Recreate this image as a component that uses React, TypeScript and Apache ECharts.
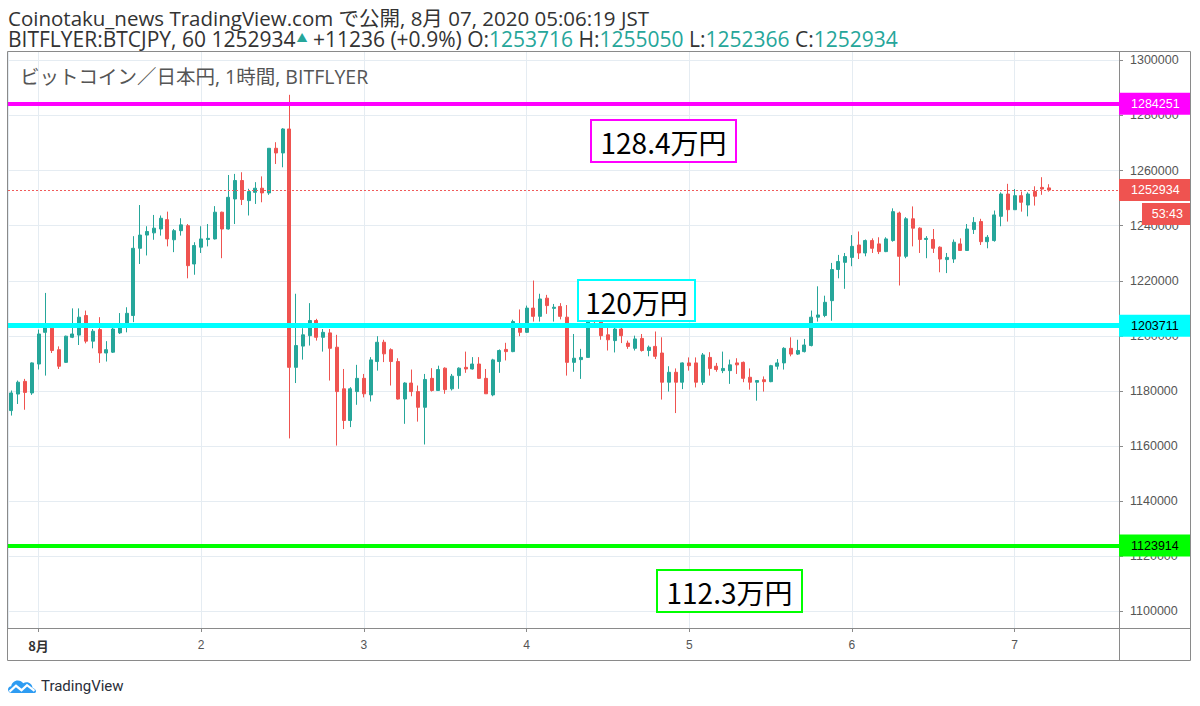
import React, { useEffect, useRef } from "react";
import * as echarts from "echarts";

// Hourly candles (JST), first candle 2020-07-31 20:00, values in 千円 (thousand yen)
const firstCandle = { year: 2020, monthIndex: 6, day: 31, hour: 20 };
const axisStart = { year: 2020, monthIndex: 6, day: 31, hour: 19, minute: 30 };
const axisEnd = { year: 2020, monthIndex: 7, day: 7, hour: 15, minute: 24 };

const openK = [
  1172.9, 1178.9, 1183.5, 1179.3, 1189.8, 1201.3, 1202.8, 1195.0, 1190.4, 1199.5,
  1200.3, 1207.4, 1198.1, 1202.3, 1193.8, 1194.1, 1201.1, 1204.3, 1207.4, 1231.8,
  1236.6, 1237.4, 1238.8, 1242.2, 1234.9, 1238.2, 1240.0, 1226.1, 1232.2, 1235.0,
  1235.2, 1244.9, 1238.8, 1249.7, 1256.4, 1249.1, 1252.1, 1253.6, 1251.9, 1268.1,
  1266.4, 1275.1, 1188.6, 1196.3, 1200.1, 1205.6, 1199.5, 1201.1, 1195.9, 1180.8,
  1169.3, 1179.8, 1184.6, 1178.6, 1190.7, 1197.7, 1195.0, 1190.7, 1177.1, 1182.9,
  1179.8, 1174.1, 1184.6, 1180.2, 1188.3, 1180.8, 1185.6, 1188.6, 1188.0, 1189.8,
  1184.6, 1178.6, 1190.7, 1195.1, 1194.3, 1203.2, 1201.3, 1210.1, 1207.1, 1213.7,
  1210.0, 1210.7, 1206.8, 1190.4, 1191.4, 1192.2, 1207.6, 1205.2, 1200.4, 1198.3,
  1202.5, 1197.4, 1195.5, 1199.1, 1194.7, 1196.2, 1193.8, 1183.2, 1186.8, 1183.2,
  1190.2, 1190.2, 1183.2, 1192.2, 1189.0, 1187.4, 1187.4, 1190.2, 1190.4, 1185.0,
  1183.2, 1184.1, 1183.4, 1189.0, 1190.2, 1195.5, 1193.4, 1194.3, 1196.5, 1206.8,
  1207.4, 1212.8, 1224.1, 1226.7, 1228.5, 1233.0, 1230.1, 1234.6, 1233.4, 1230.6,
  1234.6, 1244.6, 1228.9, 1242.5, 1239.1, 1235.0, 1235.0, 1232.2, 1227.7, 1227.9,
  1233.4, 1231.0, 1238.6, 1241.5, 1234.2, 1234.6, 1243.4, 1251.5, 1245.8, 1250.9,
  1247.5, 1252.4, 1253.9, 1253.716,
];
const closeK = [
  1179.3, 1183.2, 1179.5, 1190.2, 1200.7, 1203.1, 1194.7, 1189.0, 1199.9, 1200.7,
  1206.8, 1198.1, 1201.7, 1193.8, 1195.0, 1202.5, 1203.5, 1208.2, 1231.8, 1236.6,
  1237.9, 1239.1, 1242.7, 1235.2, 1238.2, 1240.3, 1225.5, 1232.8, 1235.2, 1235.4,
  1244.9, 1238.8, 1250.3, 1256.4, 1249.5, 1252.4, 1253.6, 1251.9, 1268.1, 1266.4,
  1275.1, 1188.6, 1196.5, 1200.4, 1205.6, 1199.5, 1201.3, 1195.5, 1179.8, 1169.3,
  1180.8, 1184.6, 1179.0, 1191.3, 1197.7, 1193.5, 1190.7, 1177.1, 1182.9, 1179.8,
  1174.1, 1184.2, 1180.2, 1187.8, 1180.5, 1185.4, 1188.3, 1188.0, 1189.8, 1184.6,
  1179.0, 1191.3, 1194.7, 1194.3, 1205.2, 1201.3, 1210.1, 1207.1, 1213.4, 1211.0,
  1210.4, 1207.1, 1190.4, 1191.9, 1192.2, 1207.6, 1205.2, 1200.1, 1198.6, 1202.5,
  1200.1, 1196.2, 1198.9, 1194.7, 1195.9, 1192.6, 1183.2, 1186.8, 1183.2, 1190.2,
  1189.2, 1183.2, 1193.1, 1188.2, 1187.8, 1188.2, 1189.5, 1189.5, 1184.6, 1183.2,
  1183.8, 1183.4, 1189.2, 1190.2, 1195.5, 1193.4, 1194.7, 1196.7, 1206.8, 1207.6,
  1212.2, 1224.1, 1227.0, 1228.8, 1232.5, 1230.1, 1234.6, 1231.8, 1230.6, 1235.2,
  1245.1, 1228.9, 1242.5, 1239.1, 1235.0, 1235.4, 1231.8, 1227.9, 1228.5, 1234.0,
  1231.0, 1238.8, 1241.2, 1234.2, 1235.8, 1243.9, 1251.5, 1245.8, 1250.9, 1248.5,
  1251.5, 1250.7, 1253.3, 1252.934,
];
const highK = [
  1180.2, 1183.8, 1184.4, 1190.4, 1202.3, 1215.6, 1203.5, 1196.2, 1200.1, 1210.0,
  1210.0, 1209.2, 1202.5, 1206.8, 1198.1, 1203.5, 1208.3, 1210.4, 1236.2, 1247.5,
  1239.8, 1243.9, 1243.7, 1245.1, 1238.8, 1242.7, 1240.6, 1234.0, 1239.8, 1240.6,
  1247.1, 1245.1, 1258.4, 1258.8, 1259.4, 1253.4, 1255.8, 1257.9, 1268.1, 1270.3,
  1275.4, 1287.5, 1215.3, 1202.8, 1211.9, 1206.2, 1202.5, 1202.5, 1200.4, 1188.0,
  1181.4, 1189.5, 1186.2, 1192.3, 1199.9, 1198.6, 1195.5, 1191.9, 1183.2, 1187.8,
  1182.0, 1186.2, 1188.3, 1189.2, 1188.6, 1186.2, 1188.6, 1194.3, 1192.3, 1192.3,
  1188.0, 1191.7, 1195.1, 1197.5, 1205.9, 1209.6, 1211.0, 1220.1, 1215.3, 1214.9,
  1211.6, 1211.9, 1211.2, 1200.7, 1195.3, 1212.4, 1208.8, 1208.6, 1203.1, 1203.5,
  1203.5, 1198.3, 1200.1, 1200.7, 1196.5, 1201.6, 1199.5, 1189.0, 1188.2, 1190.4,
  1192.2, 1192.2, 1193.8, 1194.1, 1190.2, 1194.3, 1191.4, 1191.9, 1190.7, 1188.2,
  1183.8, 1185.3, 1189.5, 1191.6, 1195.9, 1199.5, 1198.6, 1198.9, 1209.2, 1218.0,
  1214.6, 1226.5, 1229.4, 1230.1, 1236.6, 1237.9, 1235.0, 1235.4, 1235.8, 1235.8,
  1246.3, 1245.1, 1243.1, 1247.0, 1239.4, 1236.2, 1238.8, 1232.5, 1230.1, 1235.0,
  1235.4, 1240.6, 1243.1, 1242.5, 1236.6, 1245.5, 1252.1, 1255.2, 1253.3, 1252.4,
  1252.1, 1254.3, 1257.6, 1255.05,
];
const lowK = [
  1171.1, 1175.3, 1173.2, 1178.6, 1187.8, 1185.6, 1193.8, 1188.0, 1190.2, 1199.2,
  1196.7, 1197.3, 1195.5, 1190.2, 1190.7, 1193.8, 1200.7, 1201.3, 1205.0, 1226.1,
  1229.2, 1234.9, 1236.4, 1232.5, 1230.4, 1236.4, 1220.9, 1222.2, 1230.1, 1232.5,
  1235.0, 1228.2, 1238.6, 1240.6, 1247.5, 1243.7, 1247.9, 1248.5, 1251.2, 1262.4,
  1261.2, 1162.8, 1182.9, 1191.4, 1196.5, 1198.3, 1194.3, 1183.8, 1160.2, 1166.2,
  1166.9, 1175.0, 1177.7, 1176.2, 1187.4, 1190.5, 1182.0, 1176.9, 1168.1, 1178.1,
  1168.9, 1160.6, 1179.8, 1180.2, 1179.0, 1180.2, 1180.8, 1186.6, 1187.8, 1184.4,
  1179.0, 1178.1, 1186.6, 1191.1, 1194.1, 1199.9, 1201.1, 1205.2, 1205.2, 1208.0,
  1205.2, 1206.0, 1185.6, 1187.0, 1184.4, 1192.2, 1204.7, 1198.6, 1194.7, 1194.0,
  1197.4, 1195.3, 1194.7, 1194.3, 1192.6, 1191.6, 1176.9, 1179.8, 1172.0, 1180.7,
  1187.4, 1181.3, 1182.2, 1185.6, 1187.0, 1186.5, 1182.6, 1186.2, 1183.2, 1180.5,
  1176.5, 1179.8, 1183.2, 1187.8, 1187.8, 1192.6, 1193.1, 1194.0, 1196.2, 1205.2,
  1206.8, 1205.5, 1220.9, 1217.1, 1225.3, 1227.9, 1228.9, 1230.1, 1229.7, 1230.4,
  1234.2, 1218.3, 1228.2, 1232.5, 1230.1, 1228.2, 1230.1, 1223.1, 1222.8, 1226.5,
  1231.0, 1231.0, 1237.0, 1233.0, 1231.8, 1234.2, 1239.8, 1241.5, 1245.8, 1245.1,
  1243.4, 1247.3, 1251.2, 1252.366,
];

const yMin = 1094000;
const yMax = 1303400;
const yStep = 20000;

const levelValues = [1284251, 1203711, 1123914];
const levelNotes = ["128.4万円", "120万円", "112.3万円"];
const lastPrice = 1252934;
const countdown = "53:43";

const headerLine1 = "Coinotaku_news TradingView.com で公開, 8月 07, 2020 05:06:19 JST";
const symbolText = "BITFLYER:BTCJPY, 60 1252934";
const changeText = " +11236 (+0.9%)";
const ohlcLabels = ["O:", "H:", "L:", "C:"];
const ohlcValues = ["1253716", "1255050", "1252366", "1252934"];
const chartTitle = "ビットコイン／日本円, 1時間, BITFLYER";
const monthLabel = "8月";

const UP = "#26a69a";
const DOWN = "#ef5350";
const GRID = "#e5ecf2";
const FRAME = "#8a8a8a";
const LEVEL_COLORS = ["#ff00ff", "#00ffff", "#00ff00"];
const LEVEL_TEXT = ["#ffffff", "#000000", "#000000"];
const LEVEL_WIDTH = [4, 5, 4];
const NOTE_BOX = [
  { x: 591, y: 120, w: 145, h: 42 },
  { x: 578, y: 280, w: 117, h: 41 },
  { x: 657, y: 570, w: 145, h: 42 },
];
const LATIN = "'Liberation Sans', Arial, sans-serif";
const HEAD = "'Open Sans', 'Noto Sans CJK JP', sans-serif";
const CJK = "'Noto Sans CJK JP', sans-serif";

const logoPath =
  "M3.5 15C1.6 15 0 13.5 0 11.6C0 9.8 1.4 8.3 3.2 8.2C3.6 4.9 6.4 2.4 9.8 2.4C12.1 2.4 14.1 3.5 15.3 5.2C16.2 4.6 17.3 4.2 18.5 4.2C21.8 4.2 24.4 6.8 24.6 10C26.5 10.3 28 11.8 28 13.6C28 14.4 27.4 15 26.6 15Z";

export default function App() {
  const ref = useRef<HTMLDivElement>(null);

  useEffect(() => {
    document.body.style.margin = "0";
    if (!ref.current) return;
    try {
      echarts.graphic.registerShape("tvlogo", echarts.graphic.extendPath(logoPath, {}));
    } catch (e) {}
    const chart = echarts.init(ref.current, null, { renderer: "svg" });

    const t0 = new Date(firstCandle.year, firstCandle.monthIndex, firstCandle.day, firstCandle.hour).getTime();
    const H = 3600 * 1000;
    const candles = openK.map((o, i) => [
      t0 + i * H,
      Math.round(o * 1000),
      Math.round(closeK[i] * 1000),
      Math.round(lowK[i] * 1000),
      Math.round(highK[i] * 1000),
    ]);
    const xMin = new Date(axisStart.year, axisStart.monthIndex, axisStart.day, axisStart.hour, axisStart.minute).getTime();
    const xMax = new Date(axisEnd.year, axisEnd.monthIndex, axisEnd.day, axisEnd.hour, axisEnd.minute).getTime();

    const markData: any[] = levelValues.map((v, i) => ({
      yAxis: v,
      lineStyle: { color: LEVEL_COLORS[i], width: LEVEL_WIDTH[i], type: "solid", opacity: 1 },
    }));
    markData.push({ yAxis: lastPrice, lineStyle: { color: "#f05a5a", width: 1, type: [2, 2], opacity: 1 } });

    chart.setOption({
      animation: false,
      backgroundColor: "#ffffff",
      grid: { left: 8, top: 51, width: 1111, height: 577, containLabel: false },
      xAxis: {
        type: "time",
        min: xMin,
        max: xMax,
        minInterval: 24 * H,
        maxInterval: 24 * H,
        axisLine: { show: false },
        axisTick: { show: true, length: 4, lineStyle: { color: FRAME } },
        splitLine: { show: true, lineStyle: { color: GRID, width: 1 } },
        axisLabel: {
          margin: 11,
          fontSize: 12,
          fontFamily: LATIN,
          color: "#555",
          hideOverlap: false,
          formatter: (v: number) => {
            const d = new Date(v);
            if (d.getHours() !== 0 || d.getMinutes() !== 0) return "";
            if (d.getDate() === 1) return "{b|" + monthLabel + "}";
            return String(d.getDate());
          },
          rich: { b: { fontWeight: "bold", color: "#333", fontSize: 13, fontFamily: CJK } },
        },
      },
      yAxis: {
        type: "value",
        position: "right",
        min: yMin,
        max: yMax,
        splitNumber: 10,
        scale: true,
        axisLine: { show: false },
        axisTick: { show: true, length: 4, lineStyle: { color: FRAME } },
        splitLine: { show: true, lineStyle: { color: GRID, width: 1 } },
        axisLabel: {
          margin: 11,
          fontSize: 12.5,
          fontFamily: LATIN,
          color: "#555",
          formatter: (v: number) => (v % yStep === 0 ? String(v) : ""),
        },
      },
      series: [
        {
          type: "candlestick",
          data: candles,
          barWidth: 3.5,
          itemStyle: {
            color: UP,
            color0: DOWN,
            borderColor: UP,
            borderColor0: DOWN,
            borderWidth: 1,
          },
          markLine: {
            silent: true,
            symbol: ["none", "none"],
            label: { show: false },
            data: markData,
          },
        },
      ],
    });

    const yOf = (v: number) => chart.convertToPixel({ yAxisIndex: 0 }, v) as number;

    const graphics: any[] = [];
    // Frame
    graphics.push({
      type: "rect",
      shape: { x: 7.5, y: 51.5, width: 1183, height: 609 },
      style: { fill: "none", stroke: FRAME, lineWidth: 1 },
      z: 50,
    });
    graphics.push({
      type: "line",
      shape: { x1: 1119.5, y1: 51.5, x2: 1119.5, y2: 660.5 },
      style: { stroke: FRAME, lineWidth: 1 },
      z: 50,
    });
    graphics.push({
      type: "line",
      shape: { x1: 7.5, y1: 628.5, x2: 1190.5, y2: 628.5 },
      style: { stroke: FRAME, lineWidth: 1 },
      z: 50,
    });

    // Header
    graphics.push({
      type: "text",
      x: 8,
      y: 17.5,
      style: { text: headerLine1, fill: "#333", font: "20.5px " + HEAD, verticalAlign: "middle" },
      z: 60,
    });
    let rich = "{d|" + symbolText + "}{t|▲}{d|" + changeText + "}";
    ohlcLabels.forEach((l, i) => {
      rich += "{d| " + l + "}{g|" + ohlcValues[i] + "}";
    });
    graphics.push({
      type: "text",
      x: 8,
      y: 39,
      style: {
        text: rich,
        verticalAlign: "middle",
        rich: {
          d: { fill: "#333", font: "21px " + HEAD, lineHeight: 20 },
          g: { fill: UP, font: "21px " + HEAD, lineHeight: 20 },
          t: { fill: UP, font: "11px " + HEAD, padding: [0, 0, 4, 1], lineHeight: 20 },
        },
      },
      z: 60,
    });
    graphics.push({
      type: "text",
      x: 20,
      y: 76,
      style: { text: chartTitle, fill: "#555", font: "19.5px " + HEAD, verticalAlign: "middle" },
      z: 60,
    });

    // Note boxes
    levelNotes.forEach((n, i) => {
      const b = NOTE_BOX[i];
      graphics.push({
        type: "rect",
        shape: { x: b.x, y: b.y, width: b.w, height: b.h },
        style: { fill: "#ffffff", stroke: LEVEL_COLORS[i], lineWidth: 2 },
        z: 70,
      });
      graphics.push({
        type: "text",
        x: b.x + b.w / 2,
        y: b.y + b.h / 2 + 1,
        style: { text: n, fill: "#000", font: "28px " + CJK, align: "center", verticalAlign: "middle" },
        z: 71,
      });
    });

    // Price tags on right axis
    levelValues.forEach((v, i) => {
      const y = yOf(v);
      graphics.push({
        type: "rect",
        shape: { x: 1119, y: y - 11, width: 71, height: 22 },
        style: { fill: LEVEL_COLORS[i] },
        z: 80,
      });
      graphics.push({
        type: "text",
        x: 1131,
        y: y,
        style: { text: String(v), fill: LEVEL_TEXT[i], font: "12.5px " + LATIN, verticalAlign: "middle" },
        z: 81,
      });
    });
    const yl = yOf(lastPrice);
    graphics.push({
      type: "rect",
      shape: { x: 1119, y: yl - 11, width: 71, height: 22 },
      style: { fill: DOWN },
      z: 80,
    });
    graphics.push({
      type: "text",
      x: 1131,
      y: yl,
      style: { text: String(lastPrice), fill: "#fff", font: "12.5px " + LATIN, verticalAlign: "middle" },
      z: 81,
    });
    graphics.push({
      type: "rect",
      shape: { x: 1142, y: yl + 13, width: 48, height: 22 },
      style: { fill: DOWN },
      z: 80,
    });
    graphics.push({
      type: "text",
      x: 1183,
      y: yl + 24,
      style: { text: countdown, fill: "#fff", font: "12.5px " + LATIN, align: "right", verticalAlign: "middle" },
      z: 81,
    });

    // Logo
    graphics.push({
      type: "group",
      x: 8,
      y: 678,
      children: [
        { type: "tvlogo", x: 0, y: 0, scaleX: 1, scaleY: 1, style: { fill: "#2e9cf2" } },
        {
          type: "polyline",
          shape: { points: [[1.5, 13.6], [8, 7.8], [13.5, 12.2], [19, 7.2], [26.5, 12.8]] },
          style: { stroke: "#ffffff", lineWidth: 2.2, fill: "none" },
        },
      ],
      z: 60,
    });
    graphics.push({
      type: "text",
      x: 41,
      y: 686,
      style: { text: "TradingView", fill: "#2a2e39", font: "15px Roboto, sans-serif", verticalAlign: "middle" },
      z: 60,
    });

    chart.setOption({ graphic: graphics });

    return () => chart.dispose();
  }, []);

  return <div ref={ref} style={{ width: 1200, height: 706 }} />;
}
